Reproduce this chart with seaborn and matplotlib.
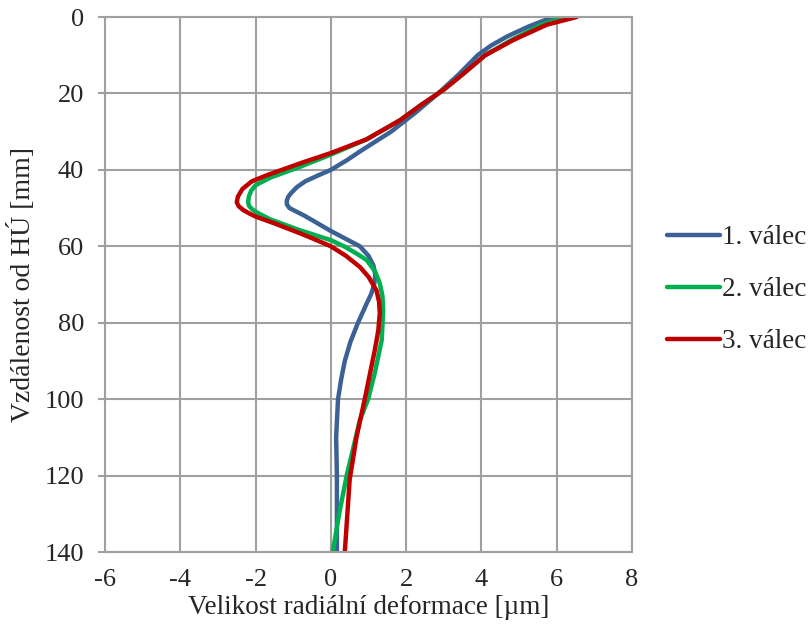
import pandas as pd
import matplotlib
matplotlib.use("Agg")
import matplotlib.pyplot as plt
import seaborn as sns

sns.set_theme(style="white")
plt.rcParams['font.family'] = ['Liberation Serif', 'DejaVu Serif']
plt.rcParams['axes.unicode_minus'] = False

# 1. válec
depth_1 = [0, 2.5, 5, 7.5, 10, 15, 20, 25, 30, 35, 37.5, 40, 41.5, 43, 44.5, 46, 47, 48, 49, 50, 51, 52, 54, 56,
           60, 62.5, 65, 67.5, 70, 72.5, 75, 80, 85, 90, 95, 100, 110, 120, 130, 140]
defo_1 = [5.9, 5.25, 4.7, 4.25, 3.9, 3.4, 2.85, 2.25, 1.6, 0.8, 0.42, 0.0, -0.35, -0.68, -0.9, -1.05, -1.13, -1.17, -1.17, -1.1, -0.9, -0.7, -0.35, 0.0,
          0.77, 1.0, 1.13, 1.18, 1.15, 1.07, 0.95, 0.72, 0.52, 0.37, 0.27, 0.19, 0.14, 0.16, 0.16, 0.16]

# 2. válec
depth_2 = [0, 2, 6, 10, 15, 19, 23, 27, 32, 36, 39.2, 42, 44, 45.5, 47, 48.5, 49.5, 50.5, 51.5, 53, 55.8, 58.4,
           60, 62, 63.6, 66.5, 69.7, 73, 76.7, 84.6, 93, 100, 105.5, 120, 130, 140]
defo_2 = [6.2, 5.6, 4.8, 4.1, 3.5, 3.0, 2.4, 1.84, 0.95, 0.0, -0.82, -1.6, -2.0, -2.12, -2.18, -2.2, -2.17, -2.07, -1.9, -1.6, -0.82, 0.0,
          0.35, 0.7, 0.95, 1.17, 1.3, 1.37, 1.39, 1.35, 1.17, 0.99, 0.77, 0.42, 0.22, 0.05]

# 3. válec
depth_3 = [0, 2, 6, 10, 15, 19, 23, 27, 32, 35.6, 38.3, 41.4, 43, 45, 47, 48.5, 49.5, 50.5, 51.5, 52.3, 54, 56.6, 58.3,
           60, 62.5, 65.4, 68, 71.5, 74.5, 77.5, 82, 87, 100, 110, 121, 140]
defo_3 = [6.53, 5.74, 4.85, 4.1, 3.5, 3.0, 2.4, 1.84, 0.95, 0.0, -0.82, -1.7, -2.1, -2.35, -2.47, -2.5, -2.45, -2.33, -2.15, -1.98, -1.5, -0.82, -0.4,
          0.0, 0.4, 0.77, 1.0, 1.21, 1.28, 1.3, 1.26, 1.17, 0.9, 0.68, 0.5, 0.37]

labels = ['1. válec', '2. válec', '3. válec']
colors = ['#3B6195', '#00B050', '#C00000']

frames = []
for lab, d, v in zip(labels, [depth_1, depth_2, depth_3], [defo_1, defo_2, defo_3]):
    frames.append(pd.DataFrame({'hloubka': d, 'deformace': v, 'serie': lab}))
df = pd.concat(frames, ignore_index=True)

fig = plt.figure(figsize=(8.11, 6.3), dpi=100)
ax = fig.add_axes([0.1295, 0.1238, 0.6498, 0.8492])

sns.lineplot(data=df, x='deformace', y='hloubka', hue='serie', palette=dict(zip(labels, colors)),
             sort=False, estimator=None, linewidth=3.2, ax=ax)

ax.set_xlim(-6, 8)
ax.set_ylim(140, 0)
ax.set_xticks(range(-6, 9, 2))
ax.set_yticks(range(0, 141, 20))
ax.grid(True, color='#A0A0A0', linewidth=1.5)
for s in ax.spines.values():
    s.set_color('#A0A0A0')
    s.set_linewidth(1.5)
ax.tick_params(axis='y', length=5, width=1.5, color='#A0A0A0', labelsize=19, pad=10, left=True)
ax.tick_params(axis='x', length=0, labelsize=19, pad=12)
ax.set_xlabel('Velikost radiální deformace [µm]', fontsize=19.5, labelpad=3)
ax.set_ylabel('Vzdálenost od HÚ [mm]', fontsize=20, labelpad=6)

ax.legend(loc='center left', bbox_to_anchor=(1.066, 0.49), frameon=False, fontsize=19.5,
          handlelength=1.95, handletextpad=0.1, labelspacing=1.0, borderpad=0, borderaxespad=0, title=None)
for lh in ax.get_legend().get_lines():
    lh.set_linewidth(3.2)

fig.savefig('out.png', dpi=100)
